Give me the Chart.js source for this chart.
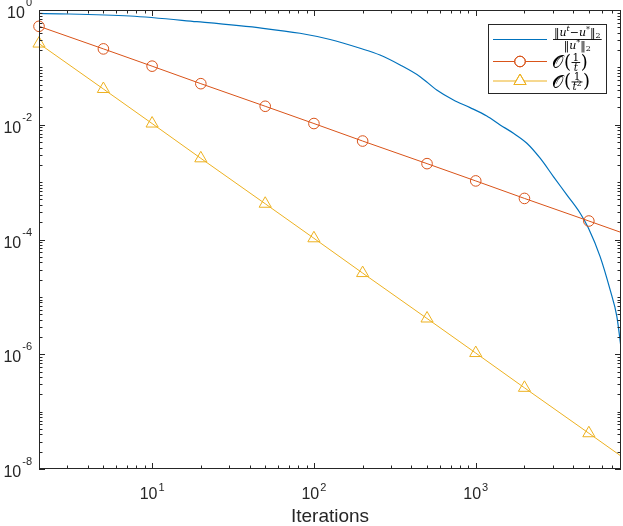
<!DOCTYPE html>
<html lang="en">
<head>
<meta charset="UTF-8">
<title>Convergence</title>
<script src="https://cdn.jsdelivr.net/npm/chart.js@4.4.1/dist/chart.umd.min.js"></script>
<style>
  html, body { margin: 0; padding: 0; background: #fff; }
  #wrap { width: 623px; height: 526px; position: relative; }
</style>
</head>
<body>
<div id="wrap"><canvas id="errChart"></canvas></div>
<script>
// relative error ||u^t - u*|| / ||u*||
const errIter  = [2, 7.3, 18.9, 48.5, 82, 126, 193, 256, 341, 453, 574, 728, 923, 1170, 1415, 1710, 2070, 2500, 3020, 3655, 4420, 4975, 5870, 6770, 7450, 7900];
const errValue = [0.876, 0.786, 0.625, 0.48, 0.393, 0.306, 0.215, 0.164, 0.110, 0.0689, 0.0403, 0.0270, 0.0199, 0.0142, 0.00993, 0.00711, 0.00476, 0.00261, 0.00125, 5.99e-4, 2.87e-4, 1.57e-4, 5.04e-5, 1.32e-5, 4.54e-6, 1.3e-6];

// reference rates, markers at these iterations (last one only ends the line)
const markIter = [2, 5, 10, 20, 50, 100, 200, 500, 1000, 2000, 5000, 7900];
const rateOne  = [0.52, 0.21, 0.105, 0.052, 0.021, 0.0105, 0.0052, 0.0021, 0.00105, 0.00052, 0.00021, 0.000133];
const rateTwo  = [0.26, 0.042, 0.0105, 0.0026, 4.2e-4, 1.05e-4, 2.6e-5, 4.2e-6, 1.05e-6, 2.6e-7, 4.2e-8, 1.68e-8];

const xTickValues = [10, 100, 1000];
const xTickExp    = ['1', '2', '3'];
const yTickValues = [1, 1e-2, 1e-4, 1e-6, 1e-8];
const yTickExp    = ['0', '-2', '-4', '-6', '-8'];

const blue = '#0072BD', orange = '#D95319', yellow = '#EDB120';
const ink = '#262626';
const sans = '"Liberation Sans", Arial, sans-serif';
const serif = '"DejaVu Serif", "Liberation Serif", serif';

function pts(xs, ys) {
    return xs.map((x, i) => ({ x: x, y: ys[i] }));
}

function logSteps(lo, hi) {
    const out = [];
    for (let e = Math.floor(Math.log10(lo)) - 1; e <= Math.ceil(Math.log10(hi)); e++) {
        for (let k = 1; k < 10; k++) {
            const v = k * Math.pow(10, e);
            if (v >= lo * (1 - 1e-9) && v <= hi * (1 + 1e-9)) out.push(v);
        }
    }
    return out;
}

function isMajor(v, list) {
    return list.some(m => Math.abs(Math.log10(v) - Math.log10(m)) < 1e-6);
}

// text made of pieces (superscripts etc.)
function drawRun(ctx, parts, x, y, draw) {
    let cx = x;
    parts.forEach(p => {
        ctx.font = (p.it ? 'italic ' : '') + p.size + 'px ' + (p.fam || serif);
        if (draw) ctx.fillText(p.t, cx, y + (p.dy || 0));
        cx += ctx.measureText(p.t).width + (p.gap || 0);
    });
    return cx - x;
}

function drawRate(ctx, x, midY, squared) {
    let cx = x;
    cx += drawRun(ctx, [{ t: '𝒪', size: 18 }], cx, midY + 6, true) + 1;
    cx += drawRun(ctx, [{ t: '(', size: 18 }], cx, midY + 5.5, true) + 0.5;
    const den = squared
        ? [{ t: 't', size: 10.5, it: true }, { t: '2', size: 7.5, dy: -4 }]
        : [{ t: 't', size: 10.5, it: true }];
    const num = [{ t: '1', size: 10.5 }];
    const wd = drawRun(ctx, den, 0, 0, false);
    const wn = drawRun(ctx, num, 0, 0, false);
    const w = Math.max(wd, wn) + 2;
    drawRun(ctx, num, cx + (w - wn) / 2, midY - 1.5, true);
    drawRun(ctx, den, cx + (w - wd) / 2, midY + 8.5, true);
    ctx.fillRect(cx, midY, w, 0.9);
    cx += w + 0.5;
    drawRun(ctx, [{ t: ')', size: 18 }], cx, midY + 5.5, true);
}

const matlabAxes = {
    id: 'matlabAxes',
    afterDraw(chart) {
        const ctx = chart.ctx;
        const a = chart.chartArea;
        const xs = chart.scales.x, ys = chart.scales.y;
        ctx.save();
        ctx.strokeStyle = ink;
        ctx.fillStyle = ink;
        ctx.lineWidth = 1;

        // frame
        ctx.strokeRect(Math.round(a.left) + 0.5, Math.round(a.top) + 0.5,
            Math.round(a.right - a.left) - 1, Math.round(a.bottom - a.top) - 1);

        // inward ticks on all four sides
        ctx.beginPath();
        logSteps(xs.min, xs.max).forEach(v => {
            const px = Math.round(xs.getPixelForValue(v)) + 0.5;
            const len = isMajor(v, xTickValues) ? 6 : 3.5;
            ctx.moveTo(px, a.bottom); ctx.lineTo(px, a.bottom - len);
            ctx.moveTo(px, a.top); ctx.lineTo(px, a.top + len);
        });
        logSteps(ys.min, ys.max).forEach(v => {
            const py = Math.round(ys.getPixelForValue(v)) + 0.5;
            const len = isMajor(v, yTickValues) ? 6 : 3.5;
            ctx.moveTo(a.left, py); ctx.lineTo(a.left + len, py);
            ctx.moveTo(a.right, py); ctx.lineTo(a.right - len, py);
        });
        ctx.stroke();

        // tick labels 10^n
        ctx.textBaseline = 'alphabetic';
        xTickValues.forEach((v, i) => {
            const parts = [{ t: '10', size: 16, fam: sans, gap: 1 }, { t: xTickExp[i], size: 11, fam: sans, dy: -8 }];
            const w = drawRun(ctx, parts, 0, 0, false);
            drawRun(ctx, parts, xs.getPixelForValue(v) - w / 2, a.bottom + 30, true);
        });
        yTickValues.forEach((v, i) => {
            const parts = [{ t: '10', size: 16, fam: sans, gap: 1 }, { t: yTickExp[i], size: 11, fam: sans, dy: -12 }];
            const w = drawRun(ctx, parts, 0, 0, false);
            drawRun(ctx, parts, a.left - 7 - w, ys.getPixelForValue(v) + 8, true);
        });

        // legend
        const bx = 488.5, by = 24.5, bw = 118, bh = 69;
        ctx.fillStyle = '#fff';
        ctx.fillRect(bx, by, bw, bh);
        ctx.strokeRect(bx, by, bw, bh);
        const rows = [
            { y: 39.5, color: blue, style: false },
            { y: 61.5, color: orange, style: 'circle', r: 5.3 },
            { y: 81, color: yellow, style: 'triangle', r: 7 }
        ];
        rows.forEach(r => {
            ctx.strokeStyle = r.color;
            ctx.lineWidth = 1;
            ctx.beginPath();
            ctx.moveTo(493, r.y); ctx.lineTo(547, r.y);
            ctx.stroke();
            if (r.style) {
                Chart.helpers.drawPoint(ctx, { pointStyle: r.style, radius: r.r, rotation: 0, borderWidth: 1 }, 520, r.y);
                ctx.stroke();
            }
        });

        ctx.fillStyle = '#000';
        const numer = [
            { t: '‖', size: 11 }, { t: 'u', size: 11, it: true }, { t: 't', size: 8, it: true, dy: -5 },
            { t: '−', size: 11 }, { t: 'u', size: 11, it: true }, { t: '*', size: 8, dy: -4 },
            { t: '‖', size: 11 }, { t: '2', size: 8, dy: 2 }
        ];
        const denom = [
            { t: '‖', size: 11 }, { t: 'u', size: 11, it: true }, { t: '*', size: 8, dy: -4 },
            { t: '‖', size: 11 }, { t: '2', size: 8, dy: 2 }
        ];
        const wn = drawRun(ctx, numer, 0, 0, false);
        const wd = drawRun(ctx, denom, 0, 0, false);
        const fx = 553, fw = Math.max(wn, wd) + 2;
        drawRun(ctx, numer, fx + (fw - wn) / 2, 36, true);
        drawRun(ctx, denom, fx + (fw - wd) / 2, 49, true);
        ctx.fillRect(fx, 39, fw, 0.9);

        drawRate(ctx, 552, 62, false);
        drawRate(ctx, 552, 81.5, true);

        ctx.restore();
    }
};

new Chart(document.getElementById('errChart'), {
    type: 'line',
    data: {
        datasets: [
            {
                label: 'relative error',
                data: pts(errIter, errValue),
                borderColor: blue,
                borderWidth: 1.2,
                pointRadius: 0,
                cubicInterpolationMode: 'monotone',
                order: 3
            },
            {
                label: 'O(1/t)',
                data: pts(markIter, rateOne),
                borderColor: orange,
                backgroundColor: 'rgba(0,0,0,0)',
                borderWidth: 1,
                pointStyle: 'circle',
                pointRadius: markIter.map((t, i) => i < markIter.length - 1 ? 5.3 : 0),
                pointBorderWidth: 1,
                clip: false,
                order: 2
            },
            {
                label: 'O(1/t^2)',
                data: pts(markIter, rateTwo),
                borderColor: yellow,
                backgroundColor: 'rgba(0,0,0,0)',
                borderWidth: 1,
                pointStyle: 'triangle',
                pointRadius: markIter.map((t, i) => i < markIter.length - 1 ? 7 : 0),
                pointBorderWidth: 1,
                clip: false,
                order: 1
            }
        ]
    },
    options: {
        responsive: true,
        maintainAspectRatio: false,
        animation: false,
        layout: { autoPadding: false, padding: { left: 39, right: 2, top: 10, bottom: 0 } },
        plugins: { legend: { display: false }, tooltip: { enabled: false } },
        scales: {
            x: {
                type: 'logarithmic',
                min: 2,
                max: 7900,
                ticks: { display: false },
                grid: { display: false, drawTicks: false },
                border: { display: false },
                title: {
                    display: true,
                    text: 'Iterations',
                    color: ink,
                    font: { family: sans, size: 19, lineHeight: 1 },
                    padding: { top: 38, bottom: 0 }
                }
            },
            y: {
                type: 'logarithmic',
                min: 1e-8,
                max: 1,
                ticks: { display: false },
                grid: { display: false, drawTicks: false },
                border: { display: false }
            }
        }
    },
    plugins: [matlabAxes]
});
</script>
</body>
</html>
